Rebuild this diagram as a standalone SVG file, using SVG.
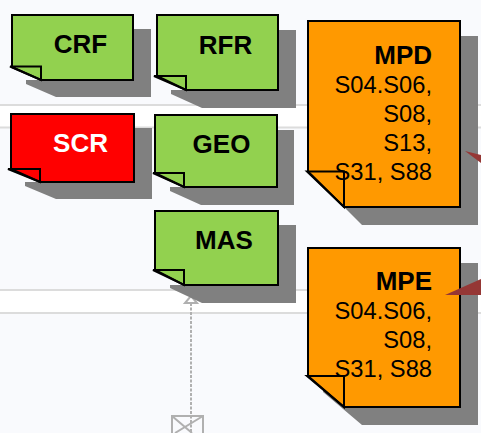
<svg xmlns="http://www.w3.org/2000/svg" width="481" height="433" viewBox="0 0 481 433">
<style>
.sh{fill:#808080}
.b{stroke:#000;stroke-width:2;stroke-linejoin:miter}
.g{fill:#92d14f}.r{fill:#f00}.o{fill:#f90}
.f{fill:none;stroke:#000;stroke-width:2}
text{font-family:"Liberation Sans",Arial,sans-serif;fill:#000}
.t{font-size:26px;font-weight:bold;text-anchor:middle}
.m{font-size:23.700px;text-anchor:end}
.h{font-size:26px;font-weight:bold;text-anchor:end}
.bar{stroke:#dcdcdc;stroke-width:2}
.tri{fill:#953735}
.c{stroke:#b0b0b0;fill:none;stroke-width:2}
</style>
<rect width="481" height="433" fill="#f9fafd"/>
<rect y="105" width="481" height="22" fill="#fff"/>
<rect y="290" width="481" height="23" fill="#fff"/>
<path class="bar" d="M0 105H481M0 127.500H481M0 290H481M0 313H481"/>
<g id="connectors">
<path class="c" d="M191 303V433" stroke-dasharray="3 1.500"/>
<path class="c" d="M191 296L185 303H197Z" style="fill:#fff"/>
<g id="envelope"><path class="c" d="M172 434V416H203V434M172 416L192 433M203 416L175 433"/></g>
</g>
<g id="CRF">
<path class="sh" d="M133 29H151V97H56L26 84V80H133Z"/>
<path class="g b" d="M12 15H133V80H41L12 67Z"/>
<path class="f" d="M10 66.500H41V80L10 66.500Z"/>
<text class="t" x="80.500" y="53">CRF</text>
</g>
<g id="RFR">
<path class="sh" d="M278 30H296V108H202L171 94V90H278Z"/>
<path class="g b" d="M157 15H278V90H186L157 76Z"/>
<path class="f" d="M154 76H186V90Z"/>
<text class="t" x="225.500" y="54">RFR</text>
</g>
<g id="SCR">
<path class="sh" d="M134 128H152V199H56L25 186V182H134Z"/>
<path class="r b" d="M11 114H134V182H40L11 169Z"/>
<path class="f" d="M8 169H40V182Z"/>
<text class="t" x="80.500" y="152" style="fill:#fff">SCR</text>
</g>
<g id="GEO">
<path class="sh" d="M277 130H294V205H201L170 191V187H277Z"/>
<path class="g b" d="M155 115H277V187H184L155 173Z"/>
<path class="f" d="M153 173H184V187Z"/>
<text class="t" x="221.500" y="153">GEO</text>
</g>
<g id="MAS">
<path class="sh" d="M278 225H296V303H202L170 288V285H278Z"/>
<path class="g b" d="M155 211H278V285H184L155 270Z"/>
<path class="f" d="M153 270H184V285Z"/>
<text class="t" x="224" y="249">MAS</text>
</g>
<g id="MPD">
<path class="sh" d="M460 36H478V225H362L344 207H460Z"/>
<path class="o b" d="M308 21H460V207H344L308 171.500Z"/>
<path class="f" d="M307 171.500H344V207Z"/>
<text class="h" x="432" y="64">MPD</text>
<text class="m" x="432" y="93">S04.S06,</text>
<text class="m" x="432" y="122">S08,</text>
<text class="m" x="432" y="151">S13,</text>
<text class="m" x="432" y="180">S31, S88</text>
</g>
<g id="MPE">
<path class="sh" d="M460 263H478V425H362L323 392V388L344 407H460Z"/>
<path class="o b" d="M308 248H460V407H344L308 376Z"/>
<path class="f" d="M307 376H344V407Z"/>
<text class="h" x="432" y="290">MPE</text>
<text class="m" x="432" y="319">S04.S06,</text>
<text class="m" x="432" y="348">S08,</text>
<text class="m" x="432" y="377">S31, S88</text>
</g>
<g id="flows">
<path class="tri" d="M465 151L481 155V163Z"/>
<path class="tri" d="M445 295L481 279V295Z"/>
</g>
</svg>
